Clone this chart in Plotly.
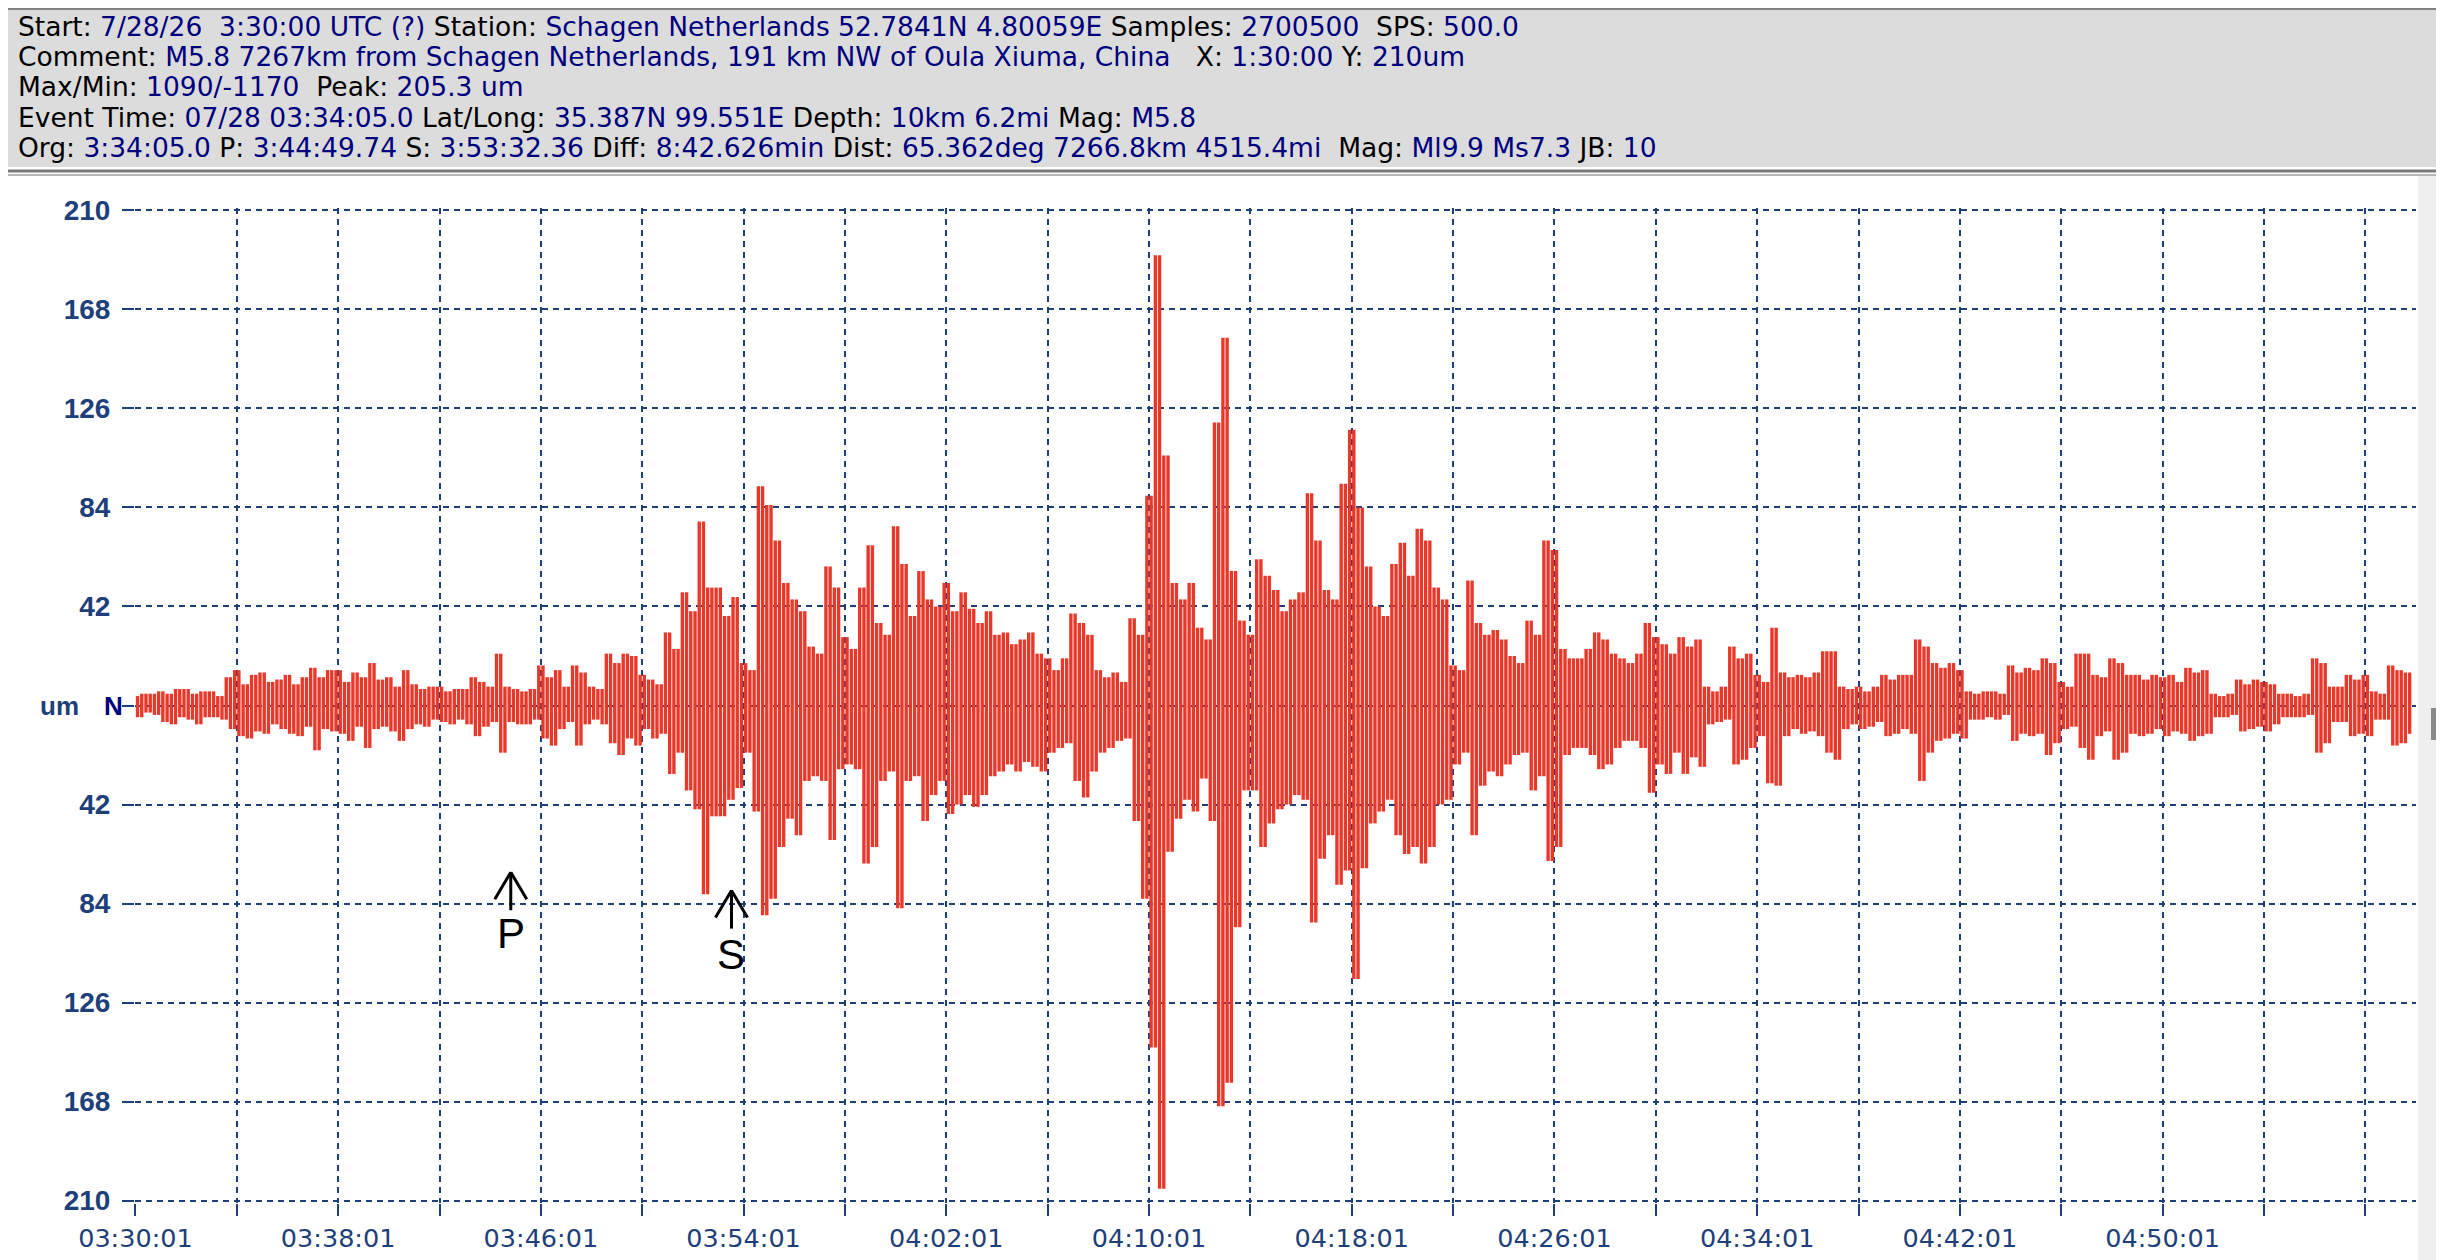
import pandas as pd
import plotly.graph_objects as go

# ---------------- data ----------------
start_time = "2026-07-28 03:30:01"
step_seconds = 10

# signed peak swing (um) every 10 s, one row per minute from 03:30:01
amplitude = [
    4, -5, 5, -3, 5, -4,
    6, -7, 5, -8, 7, -5,
    7, -6, 5, -8, 6, -5,
    6, -5, 4, -6, 12, -10,
    15, -13, 9, -14, 13, -11,
    14, -12, 10, -8, 11, -10,
    13, -12, 9, -13, 12, -9,
    16, -19, 12, -10, 15, -11,
    15, -12, 10, -15, 14, -9,
    12, -18, 18, -10, 11, -9,
    12, -11, 8, -15, 15, -10,
    9, -8, 7, -9, 8, -6,
    8, -7, 6, -8, 7, -6,
    7, -8, 12, -13, 10, -9,
    8, -7, 22, -20, 8, -7,
    7, -8, 6, -8, 7, -6,
    17, -14, 12, -17, 15, -10,
    8, -7, 17, -17, 14, -8,
    8, -6, 7, -8, 22, -16,
    18, -21, 22, -14, 21, -17,
    13, -10, 11, -14, 9, -12,
    31, -29, 24, -20, 48, -36,
    40, -44, 78, -80, 50, -47,
    50, -47, 38, -40, 46, -35,
    18, -20, 15, -45, 93, -89,
    85, -82, 70, -60, 52, -48,
    45, -55, 40, -32, 25, -30,
    22, -32, 59, -57, 50, -27,
    29, -25, 24, -27, 50, -67,
    68, -60, 35, -32, 30, -28,
    76, -86, 60, -32, 38, -30,
    57, -49, 45, -38, 42, -32,
    52, -46, 40, -42, 48, -38,
    41, -43, 35, -38, 40, -30,
    30, -28, 31, -25, 26, -28,
    28, -24, 31, -26, 22, -28,
    20, -20, 15, -18, 20, -16,
    39, -32, 35, -39, 30, -28,
    15, -20, 12, -18, 14, -15,
    10, -14, 37, -49, 30, -82,
    89, -145, 191, -205, 106, -62,
    52, -48, 45, -40, 52, -45,
    33, -31, 28, -49, 120, -170,
    156, -160, 57, -94, 36, -36,
    30, -36, 62, -60, 55, -50,
    49, -44, 40, -42, 45, -38,
    48, -40, 90, -92, 70, -65,
    49, -55, 45, -76, 94, -70,
    117, -116, 84, -69, 59, -50,
    42, -45, 38, -40, 60, -55,
    69, -63, 55, -60, 75, -67,
    70, -60, 50, -42, 45, -40,
    17, -25, 15, -20, 53, -55,
    35, -34, 30, -28, 32, -30,
    28, -25, 21, -21, 18, -20,
    36, -36, 30, -30, 70, -66,
    66, -60, 24, -21, 20, -18,
    20, -18, 24, -21, 31, -27,
    28, -25, 22, -18, 20, -15,
    18, -15, 22, -18, 35, -37,
    29, -25, 26, -29, 22, -20,
    29, -29, 25, -22, 28, -26,
    8, -8, 6, -7, 8, -6,
    25, -25, 20, -23, 22, -18,
    13, -13, 10, -33, 33, -34,
    14, -13, 12, -10, 13, -12,
    12, -11, 14, -13, 23, -20,
    23, -23, 8, -10, 7, -8,
    8, -10, 6, -9, 8, -7,
    13, -13, 11, -12, 13, -10,
    13, -12, 28, -32, 25, -20,
    18, -15, 16, -14, 18, -12,
    15, -14, 6, -6, 5, -6,
    6, -5, 6, -6, 5, -4,
    17, -15, 14, -12, 16, -13,
    15, -12, 20, -21, 18, -16,
    10, -10, 8, -9, 22, -18,
    22, -23, 13, -13, 12, -11,
    20, -23, 18, -20, 13, -12,
    13, -13, 11, -12, 13, -10,
    12, -13, 13, -11, 10, -12,
    16, -15, 14, -13, 15, -12,
    5, -5, 4, -5, 5, -4,
    11, -11, 9, -10, 11, -9,
    10, -11, 9, -8, 5, -5,
    5, -5, 4, -5, 5, -4,
    20, -20, 18, -16, 8, -7,
    8, -7, 13, -13, 11, -12,
    13, -13, 6, -6, 5, -6,
    17, -17, 15, -16, 14, -12,
]

x_tick_labels = ["03:30:01", "03:38:01", "03:46:01", "03:54:01", "04:02:01", "04:10:01",
                 "04:18:01", "04:26:01", "04:34:01", "04:42:01", "04:50:01"]
x_end = "05:00:01"
y_tick_values = [210, 168, 126, 84, 42, 0, -42, -84, -126, -168, -210]

p_arrival = "2026-07-28 03:44:49.74"
s_arrival = "2026-07-28 03:53:32.36"

header_lines = [
    [("Start: ", "7/28/26  3:30:00 UTC (?)"), (" Station: ", "Schagen Netherlands 52.7841N 4.80059E"),
     (" Samples: ", "2700500"), ("  SPS: ", "500.0")],
    [("Comment: ", "M5.8 7267km from Schagen Netherlands, 191 km NW of Oula Xiuma, China"),
     ("   X: ", "1:30:00"), (" Y: ", "210um")],
    [("Max/Min: ", "1090/-1170"), ("  Peak: ", "205.3 um")],
    [("Event Time: ", "07/28 03:34:05.0"), (" Lat/Long: ", "35.387N 99.551E"),
     (" Depth: ", "10km 6.2mi"), (" Mag: ", "M5.8")],
    [("Org: ", "3:34:05.0"), (" P: ", "3:44:49.74"), (" S: ", "3:53:32.36"),
     (" Diff: ", "8:42.626min"), (" Dist: ", "65.362deg 7266.8km 4515.4mi"),
     ("  Mag: ", "Ml9.9 Ms7.3"), (" JB: ", "10")],
]

# ---------------- styling ----------------
W, H = 2444, 1260
L, R, T, B = 127, 36, 200, 65
PW, PH = W - L - R, H - T - B
GRID = "#1f3f7a"
NAVY = "#00007f"
RED = "#e8382a"
FONT = "Liberation Sans, Arial, sans-serif"
HFONT = "DejaVu Sans, Verdana, sans-serif"


def px_x(x):
    return (x - L) / PW


def px_y(y):
    return (H - B - y) / PH


def esc(s):
    return s.replace("  ", "&nbsp; ")


day = start_time[:10]
times = pd.date_range(start_time, periods=len(amplitude), freq=f"{step_seconds}s")

# each swing is drawn as a vertical stroke spanning from one peak to the next
half_step = pd.Timedelta(seconds=step_seconds / 2)
stroke_x = times[:-1] + half_step
stroke_base = [min(a, b) for a, b in zip(amplitude[:-1], amplitude[1:])]
stroke_len = [abs(b - a) for a, b in zip(amplitude[:-1], amplitude[1:])]

fig = go.Figure()
fig.add_trace(go.Bar(x=stroke_x, y=stroke_len, base=stroke_base,
                     width=step_seconds * 1000 * 0.8,
                     marker=dict(color=RED, line=dict(width=0)), hoverinfo="skip"))

fig.update_layout(
    width=W, height=H,
    margin=dict(l=L, r=R, t=T, b=B),
    paper_bgcolor="white", plot_bgcolor="white",
    showlegend=False,
)

fig.update_xaxes(
    type="date",
    range=[pd.Timestamp(start_time) - pd.Timedelta(seconds=1), f"{day} {x_end}"],
    tickmode="array",
    tickvals=[f"{day} {t}" for t in x_tick_labels],
    ticktext=x_tick_labels,
    ticks="outside", ticklen=12, tickwidth=2, tickcolor=GRID,
    tickfont=dict(family=HFONT, size=25.5, color=GRID),
    showgrid=True, gridcolor=GRID, gridwidth=2, griddash="6px,5px",
    minor=dict(tickmode="linear", tick0=start_time, dtick=4 * 60 * 1000,
               showgrid=True, gridcolor=GRID, gridwidth=2, griddash="6px,5px",
               ticks="outside", ticklen=12, tickwidth=2, tickcolor=GRID),
    zeroline=False, showline=False,
)

fig.update_yaxes(
    range=[-211, 211],
    tickmode="array",
    tickvals=y_tick_values,
    ticktext=["" if v == 0 else str(abs(v)) for v in y_tick_values],
    ticks="outside", ticklen=12, tickwidth=2, tickcolor=GRID,
    ticklabelstandoff=6,
    tickfont=dict(family=FONT, size=28, color=GRID, weight="bold"),
    showgrid=True, gridcolor=GRID, gridwidth=2, griddash="6px,5px",
    zeroline=False, showline=False,
)

# header panel and frame pieces
shapes = [
    dict(type="rect", xref="paper", yref="paper", x0=px_x(0), x1=px_x(W),
         y0=px_y(159), y1=px_y(0), fillcolor="#dcdcdc", line=dict(width=0), layer="below"),
    dict(type="line", xref="paper", yref="paper", x0=px_x(0), x1=px_x(W),
         y0=px_y(1), y1=px_y(1), line=dict(color="#808080", width=2)),
    dict(type="line", xref="paper", yref="paper", x0=px_x(0), x1=px_x(W),
         y0=px_y(163), y1=px_y(163), line=dict(color="#7a7a7a", width=3)),
    dict(type="line", xref="paper", yref="paper", x0=px_x(0), x1=px_x(W),
         y0=px_y(167), y1=px_y(167), line=dict(color="#b8b8b8", width=2)),
    dict(type="rect", xref="paper", yref="paper", x0=px_x(2410), x1=px_x(W),
         y0=px_y(H), y1=px_y(168), fillcolor="#efefef", line=dict(width=0), layer="below"),
    dict(type="rect", xref="paper", yref="paper", x0=px_x(0), x1=px_x(W),
         y0=px_y(H), y1=px_y(1255), fillcolor="#efefef", line=dict(width=0), layer="below"),
    dict(type="rect", xref="paper", yref="paper", x0=px_x(2423), x1=px_x(2428),
         y0=px_y(732), y1=px_y(700), fillcolor="#8a8a8a", line=dict(width=0)),
]

# P and S phase markers: open arrow drawn in pixel offsets from the tip
arrow_line = dict(color="black", width=3)
markers = [(p_arrival, -70.7, -96.8, "P"), (s_arrival, -78.5, -105.7, "S")]
for when, tip, lab_y, lab in markers:
    for dx0, dy0, dx1, dy1 in [(0, 0, 0, -38), (0, 0, -16, -27), (0, 0, 16, -27)]:
        shapes.append(dict(type="line", xref="x", yref="y",
                           xsizemode="pixel", ysizemode="pixel",
                           xanchor=when, yanchor=tip,
                           x0=dx0, y0=dy0, x1=dx1, y1=dy1, line=arrow_line))
fig.update_layout(shapes=shapes)

ann = []
line_y = [18, 48.5, 79, 109.5, 140]
for ly, parts in zip(line_y, header_lines):
    txt = "".join(f"<span style='color:black'>{esc(lab)}</span>"
                  f"<span style='color:{NAVY}'>{esc(val)}</span>" for lab, val in parts)
    ann.append(dict(xref="paper", yref="paper", x=px_x(8), y=px_y(ly), text=txt,
                    xanchor="left", yanchor="middle", showarrow=False,
                    font=dict(family=HFONT, size=26.5, color="black")))

# "um  N" at the zero line
ann.append(dict(xref="paper", yref="y", x=px_x(51), y=0, text="um", showarrow=False,
                xanchor="center", yanchor="middle",
                font=dict(family=FONT, size=26, color=GRID, weight="bold")))
ann.append(dict(xref="paper", yref="y", x=px_x(105), y=0, text="N", showarrow=False,
                xanchor="center", yanchor="middle",
                font=dict(family=FONT, size=26, color=NAVY, weight="bold")))

for when, tip, lab_y, lab in markers:
    ann.append(dict(x=when, y=lab_y, xref="x", yref="y", text=lab, showarrow=False,
                    xanchor="center", yanchor="middle",
                    font=dict(family=FONT, size=42, color="black")))

fig.update_layout(annotations=ann)

fig.write_html("out.html")
